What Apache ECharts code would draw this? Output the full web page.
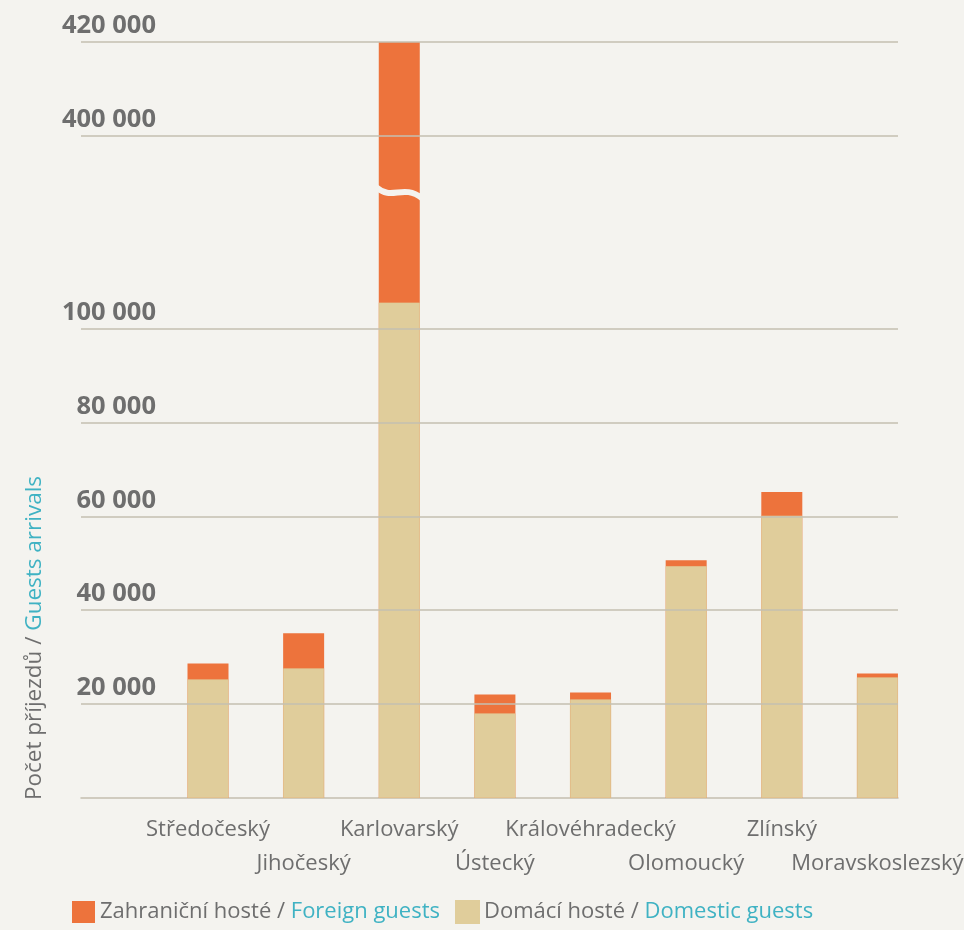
<!DOCTYPE html>
<html>
<head>
<meta charset="utf-8">
<script src="https://cdn.jsdelivr.net/npm/echarts@6/dist/echarts.min.js"></script>
<style>
  html, body { margin: 0; padding: 0; background: #f4f3ef; overflow: hidden; }
  #main { width: 964px; height: 930px; }
</style>
</head>
<body>
<div id="main"></div>
<script>
const regions = ['Středočeský', 'Jihočeský', 'Karlovarský', 'Ústecký', 'Královéhradecký', 'Olomoucký', 'Zlínský', 'Moravskoslezský']
const domestic = [25250, 27600, 105500, 18000, 20980, 49370, 60110, 25680]
const foreign = [3420, 7470, 314500, 4050, 1500, 1280, 5060, 850]
const yTicks = [20000, 40000, 60000, 80000, 100000, 400000, 420000]

// broken axis: everything from 400 000 up is shifted down
const BREAK_FROM = 400000
const BREAK_TO = 141000
const BREAK_MARK = 129000

const GRAY = '#6e6e6e'
const TEAL = '#3fb2c3'
const GRID = '#c4bfb0'
const BG = '#f4f3ef'
const FONT = 'Open Sans'
const X_MIN = -1.328
const X_MAX = 7.215

function toDisp(v) {
  return v >= BREAK_FROM ? v - BREAK_FROM + BREAK_TO : v
}
function fromDisp(v) {
  return v >= BREAK_TO ? v - BREAK_TO + BREAK_FROM : v
}
function fmt(v) {
  return String(Math.round(v)).replace(/\B(?=(\d{3})+(?!\d))/g, ' ')
}

// region names alternate between two rows
function labelAxis(row, margin, showLine) {
  return {
    type: 'value',
    position: 'bottom',
    min: X_MIN,
    max: X_MAX,
    splitLine: { show: false },
    axisTick: { show: false },
    axisLine: { show: showLine, onZero: false, lineStyle: { color: GRID, width: 1.5 } },
    axisLabel: {
      customValues: regions.map((r, i) => i).filter(i => i % 2 === row),
      formatter: v => regions[v],
      showMinLabel: true,
      showMaxLabel: true,
      hideOverlap: false,
      color: GRAY,
      fontFamily: FONT,
      fontSize: 22,
      margin: margin,
    },
  }
}

const chart = echarts.init(document.getElementById('main'))

const option = {
  backgroundColor: BG,
  animation: false,
  grid: { left: 81, right: 66, top: 42, bottom: 132, outerBoundsMode: 'none' },
  legend: {
    left: 72,
    bottom: 6,
    padding: 0,
    icon: 'rect',
    itemWidth: 23,
    itemHeight: 22,
    itemGap: 15,
    data: ['Zahraniční hosté / Foreign guests', 'Domácí hosté / Domestic guests'],
    formatter: name => {
      const parts = name.split(' / ')
      return '{a|' + parts[0] + ' / }{b|' + parts[1] + '}'
    },
    textStyle: {
      fontFamily: FONT,
      fontSize: 22,
      rich: {
        a: { color: GRAY, fontFamily: FONT, fontSize: 22 },
        b: { color: TEAL, fontFamily: FONT, fontSize: 22 },
      },
    },
  },
  xAxis: [labelAxis(0, 21, true), labelAxis(1, 55, false)],
  yAxis: {
    type: 'value',
    min: 0,
    max: toDisp(420000),
    splitLine: { show: false },
    axisLine: { show: false },
    axisTick: { show: false },
    axisLabel: {
      customValues: yTicks.map(toDisp),
      formatter: v => fmt(fromDisp(v)),
      align: 'right',
      verticalAlign: 'bottom',
      margin: -75,
      padding: [0, 0, 3, 0],
      color: GRAY,
      fontFamily: FONT,
      fontWeight: 'bold',
      fontSize: 25.5,
    },
  },
  series: [
    {
      // total height, domestic part is painted over it
      name: 'Zahraniční hosté / Foreign guests',
      type: 'bar',
      barWidth: 41,
      barGap: '-100%',
      itemStyle: { color: '#ed733c' },
      data: foreign.map((v, i) => [i, toDisp(domestic[i] + v)]),
    },
    {
      name: 'Domácí hosté / Domestic guests',
      type: 'bar',
      barWidth: 41,
      barGap: '-100%',
      itemStyle: { color: '#e0cd9b', borderColor: '#e0cd9b', borderWidth: 0.6 },
      data: domestic.map((v, i) => [i, toDisp(v)]),
      markLine: {
        silent: true,
        symbol: 'none',
        label: { show: false },
        lineStyle: { color: GRID, width: 1.5, type: 'solid' },
        data: yTicks.map(v => ({ yAxis: toDisp(v) })),
        z: 10,
      },
    },
  ],
}

chart.setOption(option)

// break mark on the tall bar + rotated axis title
const karlovy = regions.indexOf('Karlovarský')
const p = chart.convertToPixel({ gridIndex: 0 }, [karlovy, BREAK_MARK])

chart.setOption({
  graphic: [
    {
      type: 'bezierCurve',
      z: 100,
      shape: {
        x1: p[0] - 23, y1: p[1] - 5,
        cpx1: p[0] - 7, cpy1: p[1] + 9,
        cpx2: p[0] + 3, cpy2: p[1] - 9,
        x2: p[0] + 23, y2: p[1] + 6,
      },
      style: { stroke: BG, lineWidth: 6, fill: null },
    },
    {
      type: 'text',
      x: 35,
      y: 638,
      rotation: Math.PI / 2,
      style: {
        text: '{a|Počet příjezdů / }{b|Guests arrivals}',
        align: 'center',
        verticalAlign: 'middle',
        fontFamily: FONT,
        fontSize: 22.5,
        rich: {
          a: { fill: GRAY, fontFamily: FONT, fontSize: 22.5 },
          b: { fill: TEAL, fontFamily: FONT, fontSize: 22.5 },
        },
      },
    },
  ],
})
</script>
</body>
</html>
